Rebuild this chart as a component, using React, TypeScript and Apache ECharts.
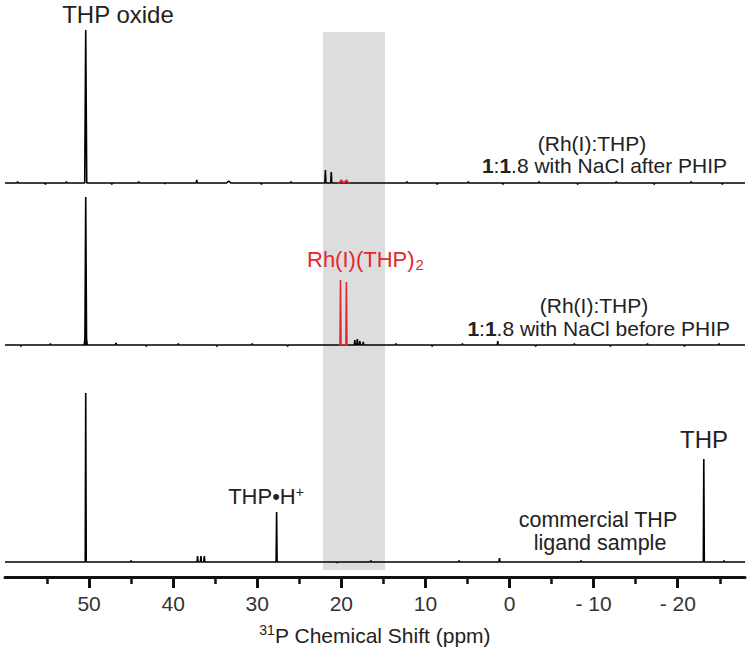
import React, { useEffect, useRef } from "react";
import * as echarts from "echarts";

const FONT = '"Liberation Sans", Arial, Helvetica, sans-serif';

// axis
const ppmMax = 60;
const ppmMin = -28;
const majorTicks = [50, 40, 30, 20, 10, 0, -10, -20];
const minorTicks = [55, 45, 35, 25, 15, 5, -5, -15, -25];
const highlightBand = [22.2, 14.8];

// peaks: [ppm, intensity, halfWidth?]
const afterPhipPeaks: number[][] = [
  [58.5, 1.5], [55.2, -1.5], [52.7, 1.5], [50.4, 153, 0.12], [47.3, -1.5], [44.1, 1.5], [41.0, -1], [37.2, 3],
  [33.4, 2, 0.25], [29.5, -1.5], [26.0, 1.5], [21.9, 13], [21.2, 11], [12.2, 1.5], [8.6, -1.5], [4.9, 1.5],
  [0.8, -1.5], [-3.5, 1.5], [-8.1, -1.5], [-12.7, 1.5], [-17.2, -1.5], [-21.6, 1.5], [-25.3, -1.5],
];
const afterPhipRed: number[][] = [[20.0, 3, 0.3], [19.4, 3, 0.3]];
const beforePhipPeaks: number[][] = [
  [58.1, -1.5], [54.6, 1.5], [50.4, 148, 0.1], [50.4, 14, 0.18], [46.8, 2], [43.2, -1.5], [39.4, 1.5],
  [34.8, -1.5], [30.6, 1.5], [26.4, -1.5], [18.4, 5], [18.1, 6], [17.8, 4], [17.4, 3], [13.5, 1.5], [9.2, -1.5],
  [5.6, 1.5], [1.4, 4], [-3.1, -1.5], [-7.7, 1.5], [-12.0, -1.5], [-16.4, 1.5], [-20.8, -1.5], [-24.9, 1.5],
];
const beforePhipRed: number[][] = [[20.1, 65], [19.4, 63]];
const ligandPeaks: number[][] = [
  [50.4, 169], [45.0, 1.5], [37.1, 6], [36.7, 6], [36.3, 6], [27.7, 50], [20.5, -1], [16.5, 1.5],
  [6.0, 1.5], [1.2, 4], [-8.5, 1.5], [-23.1, 103], [-25.5, 1.5],
];

// vertical placement of stacked traces (chart y units = px above axis line)
const traceOffsets = { after: 394, before: 232, ligand: 15 };
const bandY = [7, 545];

function buildTrace(peaks: number[][], offset: number, from = ppmMax, to = ppmMin) {
  const sorted = [...peaks].sort((a, b) => b[0] - a[0]);
  const pts: number[][] = [[from, offset]];
  sorted.forEach((p) => {
    const w = p[2] ?? 0.06;
    pts.push([p[0] + w, offset], [p[0], offset + p[1]], [p[0] - w, offset]);
  });
  pts.push([to, offset]);
  return pts;
}

export default function App() {
  const ref = useRef<HTMLDivElement>(null);
  useEffect(() => {
    if (!ref.current) return;
    const chart = echarts.init(ref.current, null, { renderer: "svg" });
    const textColor = "#222";
    const red = "#e8262d";
    const lineSeries = (name: string, data: number[][], color: string, z: number, width = 1.6) => ({
      name,
      type: "line",
      data,
      showSymbol: false,
      symbol: "none",
      z,
      lineStyle: { color, width },
      xAxisIndex: 0,
      yAxisIndex: 0,
    });
    const txt = (x: number, y: number, text: string, fontSize: number, align = "center", extra: any = {}) => ({
      type: "text",
      x,
      y,
      z: 100,
      style: { text, fontSize, fontFamily: FONT, fill: textColor, align, verticalAlign: "middle", ...extra },
    });
    const ratioRich = { b: { fontWeight: "bold", fontSize: 21, fontFamily: FONT, fill: textColor } };
    const option: any = {
      animation: false,
      grid: { left: 5, right: 5, top: 0, bottom: 76, containLabel: false },
      xAxis: [
        {
          type: "value",
          inverse: true,
          min: ppmMin,
          max: ppmMax,
          position: "bottom",
          splitLine: { show: false },
          axisLine: { show: true, onZero: false, lineStyle: { color: "#111", width: 3 } },
          axisTick: { show: true, customValues: majorTicks, length: 11, lineStyle: { color: "#111", width: 3 } },
          axisLabel: {
            customValues: majorTicks,
            formatter: (v: number) => (v < 0 ? "- " + -v : String(v)),
            fontSize: 21,
            fontFamily: FONT,
            color: "#333",
            margin: 16,
          },
          name: "{sup|31}{base|P Chemical Shift (ppm)}",
          nameLocation: "middle",
          nameGap: 46,
          nameTextStyle: {
            fontFamily: FONT,
            color: textColor,
            fontSize: 21,
            rich: {
              sup: { fontSize: 14, fontFamily: FONT, color: textColor, verticalAlign: "top", lineHeight: 24 },
              base: { fontSize: 21, fontFamily: FONT, color: textColor, lineHeight: 24 },
            },
          },
        },
        {
          type: "value",
          inverse: true,
          min: ppmMin,
          max: ppmMax,
          position: "bottom",
          splitLine: { show: false },
          axisLine: { show: false, onZero: false },
          axisTick: { show: true, customValues: minorTicks, length: 7, lineStyle: { color: "#111", width: 2.5 } },
          axisLabel: { show: false },
        },
      ],
      yAxis: { type: "value", min: 0, max: 577, show: false, splitLine: { show: false } },
      series: [
        {
          name: "band",
          type: "line",
          data: [],
          z: 1,
          markArea: {
            silent: true,
            itemStyle: { color: "#dcdedd" },
            data: [[{ xAxis: highlightBand[0], yAxis: bandY[0] }, { xAxis: highlightBand[1], yAxis: bandY[1] }]],
          },
        },
        lineSeries("after PHIP", buildTrace(afterPhipPeaks, traceOffsets.after), "#000", 3),
        lineSeries("after PHIP Rh", buildTrace(afterPhipRed, traceOffsets.after, 20.4, 19.0), red, 4),
        lineSeries("before PHIP", buildTrace(beforePhipPeaks, traceOffsets.before), "#000", 3),
        lineSeries("before PHIP Rh", buildTrace(beforePhipRed, traceOffsets.before, 20.3, 19.2), red, 4),
        lineSeries("ligand", buildTrace(ligandPeaks, traceOffsets.ligand), "#000", 3),
      ],
      graphic: [
        txt(118, 14, "THP oxide", 24),
        txt(592, 143, "(Rh(I):THP)", 21),
        txt(727, 165, "{b|1}:{b|1}.8 with NaCl after PHIP", 21, "right", { rich: ratioRich }),
        {
          type: "text", x: 307, y: 259, z: 100,
          style: {
            text: "Rh(I)(THP){s|2}", fontSize: 22, fontFamily: FONT, fill: red, align: "left", verticalAlign: "middle",
            rich: { s: { fontSize: 15, fontFamily: FONT, fill: red, verticalAlign: "bottom", padding: [10, 0, 0, 1] } },
          },
        },
        txt(594, 305, "(Rh(I):THP)", 21),
        txt(730, 328, "{b|1}:{b|1}.8 with NaCl before PHIP", 21, "right", { rich: ratioRich }),
        txt(266, 496, "THP•H{p|+}", 22, "center", {
          rich: { p: { fontSize: 14, fontFamily: FONT, fill: textColor, verticalAlign: "top", padding: [0, 0, 8, 0] } },
        }),
        txt(704, 439, "THP", 24),
        txt(598, 520, "commercial THP", 21.5),
        txt(600, 543, "ligand sample", 21.5),
      ],
    };
    chart.setOption(option);
    return () => chart.dispose();
  }, []);
  return <div ref={ref} style={{ width: 750, height: 653, position: "absolute", left: 0, top: 0 }} />;
}
